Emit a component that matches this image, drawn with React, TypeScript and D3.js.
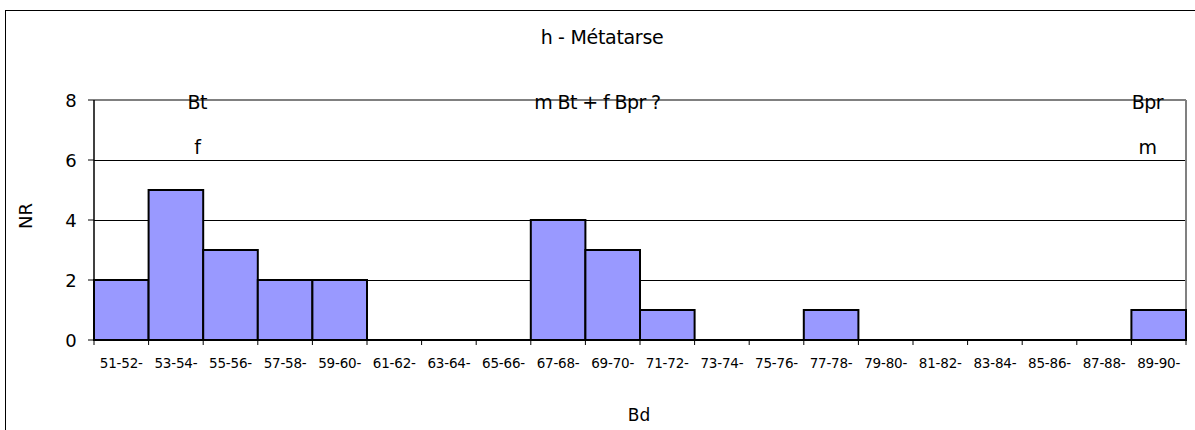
import React from "react";
import * as d3 from "d3";

const categories = ["51-52-","53-54-","55-56-","57-58-","59-60-","61-62-","63-64-","65-66-","67-68-","69-70-","71-72-","73-74-","75-76-","77-78-","79-80-","81-82-","83-84-","85-86-","87-88-","89-90-"];
const values = [2,5,3,2,2,0,0,0,4,3,1,0,0,1,0,0,0,0,0,1];
const yTicks = [0,2,4,6,8];
const annotations = [
  { cat: "55-56-", lines: ["Bt", "f"], dx: -6 },
  { cat: "69-70-", lines: ["m Bt + f Bpr ?"], dx: 12 },
  { cat: "89-90-", lines: ["Bpr", "m"], dx: 16 },
];

const W = 1195, H = 430;
const left = 94, right = 1186, top = 100, bottom = 340;
const font = "Tahoma, 'DejaVu Sans', Verdana, sans-serif";

export default function App() {
  const x = d3.scaleBand<string>().domain(categories).range([left, right]).padding(0);
  const y = d3.scaleLinear().domain([0, 8]).range([bottom, top]);
  const bw = x.bandwidth();
  return (
    <svg width={W} height={H} style={{ position: "absolute", left: 0, top: 0, background: "#fff" }}>
      <rect x={5.5} y={10.5} width={W + 10} height={H + 10} fill="#fff" stroke="#000" strokeWidth={1} />
      <text x={602} y={44} textAnchor="middle" fontFamily={font} fontSize={19} letterSpacing={-0.3}>h - Métatarse</text>
      {yTicks.filter(t => t > 0 && t < 8).map(t => (
        <line key={t} x1={left} x2={right} y1={Math.round(y(t)) + 0.5} y2={Math.round(y(t)) + 0.5} stroke="#000" strokeWidth={1} />
      ))}
      <line x1={left} x2={right} y1={y(8)} y2={y(8)} stroke="#808080" strokeWidth={2} />
      <line x1={right} x2={right} y1={top} y2={bottom} stroke="#808080" strokeWidth={2} />
      {values.map((v, i) => v > 0 ? (
        <rect key={i} x={x(categories[i])!} y={y(v)} width={bw} height={y(0) - y(v)} fill="#9999FF" stroke="#000" strokeWidth={2} />
      ) : null)}
      <line x1={left} x2={left} y1={top} y2={bottom} stroke="#000" strokeWidth={1.5} />
      <line x1={left} x2={right} y1={bottom} y2={bottom} stroke="#000" strokeWidth={2} />
      {yTicks.map(t => (
        <g key={t}>
          <line x1={left - 6} x2={left} y1={y(t)} y2={y(t)} stroke="#000" strokeWidth={1} />
          <text x={71} y={y(t) + 6.5} textAnchor="middle" fontFamily={font} fontSize={18}>{t}</text>
        </g>
      ))}
      {categories.map((c) => (
        <g key={c}>
          <line x1={x(c)!} x2={x(c)!} y1={bottom} y2={bottom + 5} stroke="#000" strokeWidth={1} />
          <text x={x(c)! + bw / 2} y={368} textAnchor="middle" fontFamily={font} fontSize={13.5} letterSpacing={-0.2}>{c}</text>
        </g>
      ))}
      <line x1={right} x2={right} y1={bottom} y2={bottom + 5} stroke="#000" strokeWidth={1} />
      <text transform={`translate(32,216) rotate(-90)`} textAnchor="middle" fontFamily={font} fontSize={18}>NR</text>
      <text x={639} y={421} textAnchor="middle" fontFamily={font} fontSize={17}>Bd</text>
      {annotations.map((a, k) => (
        <g key={k}>
          {a.lines.map((l, j) => (
            <text key={j} x={x(a.cat)! + a.dx} y={y(8) + 9 + j * 45} textAnchor="middle" fontFamily={font} fontSize={19} letterSpacing={-0.6}>{l}</text>
          ))}
        </g>
      ))}
    </svg>
  );
}
